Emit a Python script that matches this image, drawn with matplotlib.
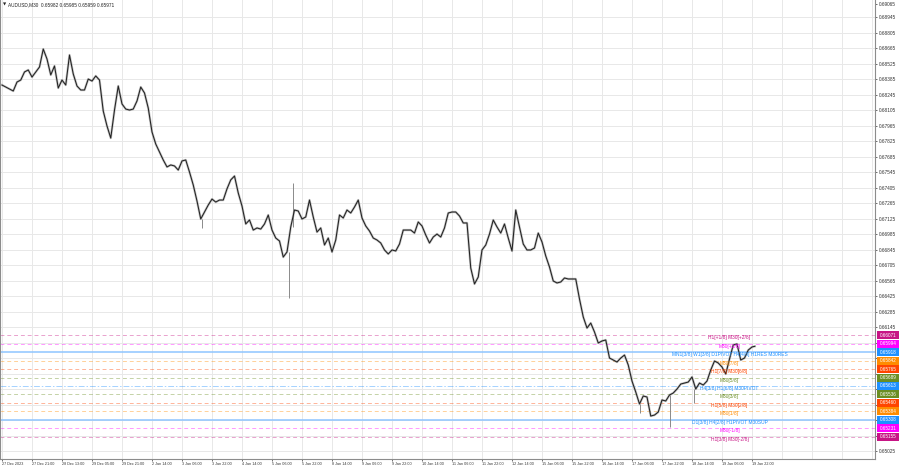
import matplotlib
matplotlib.use("Agg")
import matplotlib.pyplot as plt
import matplotlib.transforms as mtransforms
from matplotlib.patches import Rectangle
import numpy as np

# ---------------- data ----------------
title_text = "AUDUSD,M30  0.65982 0.65985 0.65959 0.65971"

bars_per_sample = 4          # one close value per 4 M30 bars (2 hours)
close = [
    0.68331, 0.68313, 0.68295, 0.68277, 0.68358, 0.68376, 0.68449, 0.68467, 0.68403, 0.68449,
    0.68494, 0.68656, 0.68566, 0.68422, 0.68503, 0.68304, 0.68376, 0.68331, 0.68602, 0.68431,
    0.68322, 0.68286, 0.68286, 0.68385, 0.68367, 0.68413, 0.68376, 0.68096, 0.67961, 0.67852,
    0.68105, 0.68322, 0.68160, 0.68114, 0.68105, 0.68114, 0.68187, 0.68313, 0.68259, 0.68123,
    0.67907, 0.67798, 0.67726, 0.67654, 0.67591, 0.67609, 0.67600, 0.67563, 0.67645, 0.67654,
    0.67545, 0.67428, 0.67283, 0.67121, 0.67184, 0.67247, 0.67301, 0.67274, 0.67292, 0.67292,
    0.67393, 0.67474, 0.67509, 0.67356, 0.67238, 0.67076, 0.67112, 0.67021, 0.67040, 0.67030,
    0.67076, 0.67157, 0.67021, 0.66949, 0.66922, 0.66777, 0.66823, 0.67049, 0.67202, 0.67193,
    0.67121, 0.67139, 0.67292, 0.67139, 0.67003, 0.67040, 0.66886, 0.66949, 0.66823, 0.66931,
    0.67157, 0.67130, 0.67202, 0.67175, 0.67229, 0.67292, 0.67130, 0.67058, 0.67012, 0.66949,
    0.66931, 0.66904, 0.66841, 0.66805, 0.66841, 0.66832, 0.66895, 0.67021, 0.67021, 0.67021,
    0.66994, 0.67094, 0.67058, 0.66976, 0.66904, 0.66958, 0.66985, 0.66958, 0.67040, 0.67175,
    0.67184, 0.67184, 0.67148, 0.67085, 0.67085, 0.66678, 0.66534, 0.66597, 0.66841, 0.66886,
    0.66985, 0.67112, 0.67049, 0.66994, 0.67076, 0.66949, 0.66832, 0.67202, 0.67049, 0.66895,
    0.66841, 0.66841, 0.66859, 0.66994, 0.66913, 0.66787, 0.66687, 0.66561, 0.66543, 0.66552,
    0.66588, 0.66579, 0.66579, 0.66579, 0.66398, 0.66236, 0.66136, 0.66181, 0.66100, 0.66001,
    0.66019, 0.66028, 0.65865, 0.65847, 0.65829, 0.65865, 0.65892, 0.65802, 0.65657, 0.65558,
    0.65450, 0.65522, 0.65513, 0.65341, 0.65350, 0.65377, 0.65486, 0.65477, 0.65531, 0.65549,
    0.65585, 0.65630, 0.65639, 0.65648, 0.65694, 0.65585, 0.65639, 0.65621, 0.65657, 0.65757,
    0.65838, 0.65820, 0.65784, 0.65721, 0.65856, 0.65983, 0.65992, 0.65847, 0.65865, 0.65937,
    0.65965,
]
last_bar = 803
last_close = 0.65971

# long wicks (bar index, low, high)
wick_bar = [213, 306, 310, 681, 712, 738]
wick_low = [0.67040, 0.66407, 0.67049, 0.65368, 0.65242, 0.65459]
wick_high = [0.67121, 0.66823, 0.67446, 0.65450, 0.65531, 0.65585]

bars_per_label = 32
time_labels = [
    "27 Dec 2023", "27 Dec 21:00", "28 Dec 13:00", "29 Dec 05:00", "29 Dec 21:00",
    "2 Jan 14:00", "3 Jan 06:00", "3 Jan 22:00", "4 Jan 14:00", "5 Jan 06:00",
    "5 Jan 22:00", "8 Jan 14:00", "9 Jan 06:00", "9 Jan 22:00", "10 Jan 14:00",
    "11 Jan 06:00", "11 Jan 22:00", "12 Jan 14:00", "15 Jan 06:00", "15 Jan 22:00",
    "16 Jan 14:00", "17 Jan 06:00", "17 Jan 22:00", "18 Jan 14:00", "19 Jan 06:00",
    "19 Jan 22:00",
]

price_ticks = [
    0.69065, 0.68945, 0.68805, 0.68665, 0.68525, 0.68385, 0.68245, 0.68105, 0.67965,
    0.67825, 0.67685, 0.67545, 0.67405, 0.67265, 0.67125, 0.66985, 0.66845, 0.66705,
    0.66565, 0.66425, 0.66285, 0.66145, 0.66005, 0.65865, 0.65725, 0.65585, 0.65445,
    0.65305, 0.65165, 0.65025,
]
# tick labels hidden behind the coloured level boxes
hidden_ticks = [0.66005, 0.65865, 0.65725, 0.65585, 0.65445, 0.65305, 0.65165]
price_min, price_max = 0.64953, 0.69099

level_prices = [0.66071, 0.65994, 0.65918, 0.65842, 0.65765, 0.65689, 0.65613,
                0.65536, 0.65460, 0.65384, 0.65308, 0.65231, 0.65155]
level_names = [
    "H1[+1/8] M30[+2/8]", "M30[+1/8]", "MN1[3/8] W1[3/8] D1PIVOT H4[4/8] H1RES M30RES",
    "M30[7/8]", "H1[7/8] M30[6/8]", "M30[5/8]", "H4[3/8] H1[6/8] M30PIVOT",
    "M30[3/8]", "H1[5/8] M30[2/8]", "M30[1/8]", "D1[3/8] H4[2/8] H1PIVOT M30SUP",
    "M30[-1/8]", "H1[3/8] M30[-2/8]",
]
level_colors = ["#C71585", "#FF00FF", "#1E90FF", "#FF8C00", "#FF4500", "#6B8E23",
                "#1E90FF", "#6B8E23", "#FF4500", "#FF8C00", "#1E90FF", "#FF00FF", "#C71585"]
level_styles = ["dash", "dash", "solid", "dash", "dash", "dash", "dashdot",
                "dash", "dash", "dash", "solid", "dash", "dash"]
label_bar = 776

# ---------------- figure ----------------
W, H, DPI = 900, 468, 100
fig = plt.figure(figsize=(W / DPI, H / DPI), dpi=DPI, facecolor="white")
ax_left_px, ax_right_px, ax_top_px, ax_bot_px = 0, 875, 0, 459
ax = fig.add_axes([ax_left_px / W, (H - ax_bot_px) / H,
                   (ax_right_px - ax_left_px) / W, (ax_bot_px - ax_top_px) / H])

px_per_bar = 0.9375
x0_bar = -2 / px_per_bar
ax.set_xlim(x0_bar, x0_bar + ax_right_px / px_per_bar)
ax.set_ylim(price_min, price_max)

FONT = "Liberation Sans"
grid_c = "#e8e8e8"

# grid
for p in price_ticks[1:]:
    ax.axhline(p, color=grid_c, lw=0.7, zorder=0)
for xb in np.arange(0, x0_bar + ax_right_px / px_per_bar, bars_per_label):
    ax.axvline(xb, color=grid_c, lw=0.7, zorder=0)

# level lines
ls_map = {"dash": (0, (4, 3)), "dashdot": (0, (6, 2, 1.5, 2)), "solid": "-"}
for p, c, s in zip(level_prices, level_colors, level_styles):
    if s == "solid":
        ax.axhline(p, color="#8EC5FF", lw=1.1, zorder=1)
    else:
        ax.axhline(p, color=c, lw=0.7, ls=ls_map[s], alpha=0.4, zorder=1)

# price path
xs = list(np.arange(len(close)) * bars_per_sample) + [last_bar]
ys = list(close) + [last_close]
ax.plot(xs, ys, color="#8a8a8a", lw=1.7, alpha=0.5, zorder=2)
ax.plot(xs, ys, color="#222222", lw=0.75, zorder=3)
ax.vlines(wick_bar, wick_low, wick_high, color="#8a8a8a", lw=0.7, zorder=2)

# level text labels
for p, c, name in zip(level_prices, level_colors, level_names):
    ax.annotate(name, (label_bar, p), xytext=(0, -1.8), textcoords="offset points",
                ha="center", va="center", fontsize=3.5, color=c, family=FONT, zorder=5)

# axes styling
for side in ["left", "bottom", "right"]:
    ax.spines[side].set_color("#8c8c8c")
    ax.spines[side].set_linewidth(0.8)
ax.spines["top"].set_visible(False)

ax.yaxis.tick_right()
ax.set_yticks(price_ticks)
ax.set_yticklabels(["" if p in hidden_ticks else f"{p:.5f}" for p in price_ticks])
ax.tick_params(axis="y", length=1.5, width=0.5, pad=1.5, labelsize=3.4,
               colors="#333333")
ax.set_xticks(np.arange(len(time_labels)) * bars_per_label)
ax.set_xticklabels(time_labels)
ax.tick_params(axis="x", length=1.5, width=0.5, pad=1.0, labelsize=2.7, colors="#333333")
for lbl in ax.get_xticklabels():
    lbl.set_horizontalalignment("left")
    lbl.set_family(FONT)
for lbl in ax.get_yticklabels():
    lbl.set_family(FONT)

# right-hand colored price boxes
trans = mtransforms.blended_transform_factory(ax.transAxes, ax.transData)
bx0 = 877 / ax_right_px
bw = 22 / ax_right_px
bh = 8 * (price_max - price_min) / (ax_bot_px - ax_top_px)
for p, c in zip(level_prices, level_colors):
    ax.add_patch(Rectangle((bx0, p - bh / 2), bw, bh, transform=trans,
                           facecolor=c, edgecolor="none", clip_on=False, zorder=6))
    ax.text(bx0 + bw / 2, p, f"{p:.5f}", transform=trans, ha="center", va="center",
            fontsize=3.3, color="white", family=FONT, zorder=7, clip_on=False)

# title
fig.text(3 / W, 1 - 5 / H, "\u25BC", fontsize=3.0, color="#222222", va="center",
         family="DejaVu Sans")
fig.text(8 / W, 1 - 5 / H, title_text, fontsize=3.4, color="#222222", va="center",
         family=FONT)

fig.savefig("out.png", dpi=DPI, facecolor="white")
